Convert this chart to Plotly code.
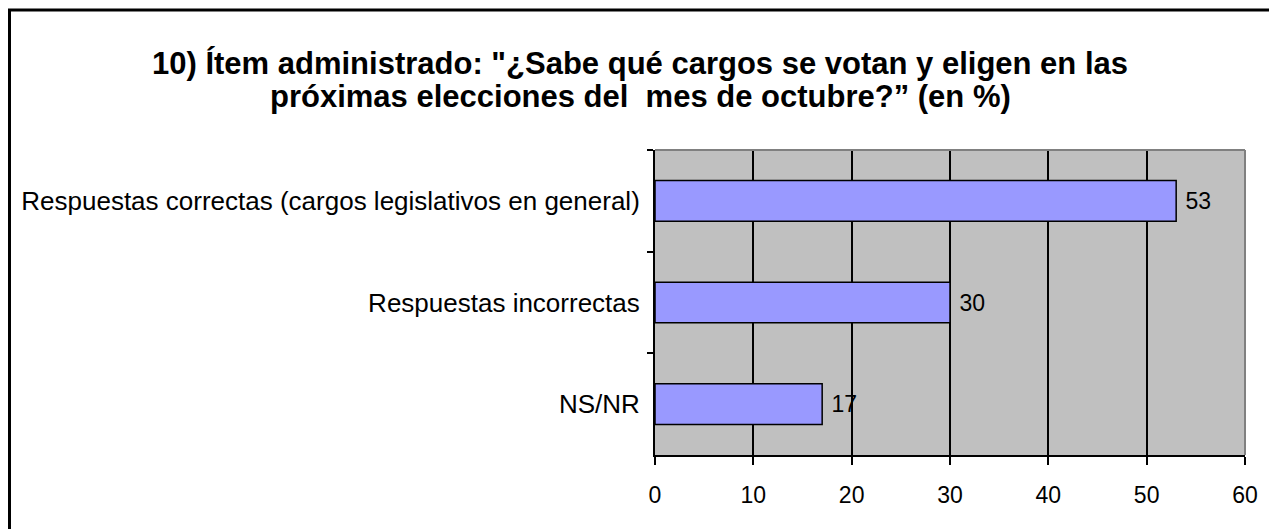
import plotly.graph_objects as go

categories = ["Respuestas correctas (cargos legislativos en general)",
              "Respuestas incorrectas",
              "NS/NR"]
values = [53, 30, 17]
x_ticks = [0, 10, 20, 30, 40, 50, 60]
title_lines = ['10) Ítem administrado: "¿Sabe qué cargos se votan y eligen en las',
               'próximas elecciones del&nbsp; mes de octubre?” (en %)']

W, H = 1277, 529
OFF = 8  # page body offset in the browser
L, T = 655 - OFF, 150 - OFF
pw, ph = 590, 305
R = W - L - pw
B = H - T - ph
FONT = "Liberation Sans, Arial, sans-serif"

def px_x(sx):
    return (sx - OFF - L) / pw

def px_y(sy):
    return 1 + (T - (sy - OFF)) / ph

fig = go.Figure()
fig.add_trace(go.Bar(
    y=categories, x=values, orientation="h",
    marker=dict(color="#9999FF", line=dict(color="black", width=1.5)),
    width=0.4,
    text=[" " + str(v) for v in values], textposition="outside",
    textfont=dict(family=FONT, size=23, color="black"),
    cliponaxis=False,
))

fig.update_layout(
    width=W, height=H,
    margin=dict(l=L, r=R, t=T, b=B, autoexpand=False),
    paper_bgcolor="white", plot_bgcolor="#C0C0C0",
    showlegend=False,
    font=dict(family=FONT, size=18, color="black"),
)
for i, (line, sy) in enumerate(zip(title_lines, [63, 97])):
    fig.add_annotation(
        text=line, showarrow=False,
        xref="paper", yref="paper", x=px_x(640), y=px_y(sy),
        xanchor="center", yanchor="middle",
        font=dict(family=FONT, size=31, color="black", weight="bold"),
    )

fig.update_xaxes(
    range=[0, 60], tickvals=x_ticks, ticktext=[str(t) for t in x_ticks],
    showgrid=True, gridcolor="black", gridwidth=1.5,
    showline=True, linecolor="black", linewidth=2,
    ticks="outside", ticklen=8, tickcolor="black", tickwidth=2,
    ticklabelstandoff=10,
    zeroline=False,
    tickfont=dict(family=FONT, size=23),
)
fig.update_yaxes(
    range=[2.5, -0.5], type="category",
    showgrid=False, showline=True, linecolor="black", linewidth=2,
    ticks="outside", ticklen=6, tickcolor="black", tickwidth=1.5,
    tickson="boundaries", ticklabelstandoff=8,
    tickfont=dict(family=FONT, size=26),
)
# gray top/right border of plot area
fig.add_shape(type="line", xref="x domain", yref="y domain",
              x0=0, x1=1, y0=1, y1=1, line=dict(color="#808080", width=2))
fig.add_shape(type="line", xref="x domain", yref="y domain",
              x0=1, x1=1, y0=0, y1=1, line=dict(color="#808080", width=2))
# outer chart frame
fig.add_shape(type="rect", xref="paper", yref="paper",
              x0=(1.5 - L) / pw, x1=(W + 20 - L) / pw,
              y0=-(B + 20) / ph, y1=1 + (T - 2) / ph,
              line=dict(color="black", width=3), fillcolor="rgba(0,0,0,0)",
              layer="above")

fig.write_html("out.html")
